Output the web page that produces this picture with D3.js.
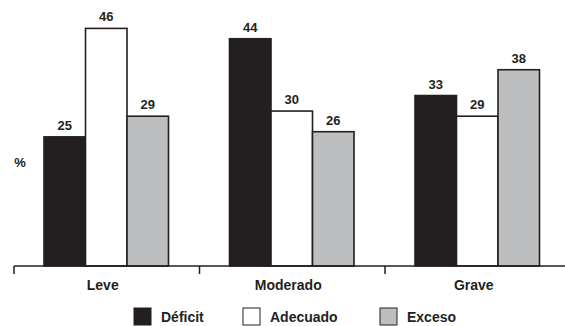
<!DOCTYPE html>
<html><head><meta charset="utf-8">
<script src="https://cdn.jsdelivr.net/npm/d3@7"></script>
<style>
html,body{margin:0;padding:0;background:#fff;}
svg{display:block;font-family:"Liberation Sans",Arial,Helvetica,sans-serif;font-weight:bold;}
</style></head><body>
<svg id="chart" width="565" height="326"></svg>
<script>
const categories = ["Leve", "Moderado", "Grave"];
const seriesNames = ["Déficit", "Adecuado", "Exceso"];
const deficit = [25, 44, 33];
const adecuado = [46, 30, 29];
const exceso = [29, 26, 38];
const seriesValues = [deficit, adecuado, exceso];
const colors = ["#231f20", "#ffffff", "#bcbec0"];
const stroke = "#231f20";

const svg = d3.select("#chart");
const baseY = 266;
const x0 = d3.scaleBand().domain(categories).range([14, 570.5]).padding(0);
const x1 = d3.scaleBand().domain(seriesNames).range([30, 154.5]).padding(0);
const y = d3.scaleLinear().domain([0, 51.5]).range([baseY, 0]);

const data = [];
categories.forEach((c, i) => seriesNames.forEach((s, j) => data.push({c, s, j, v: seriesValues[j][i]})));

// bars
svg.append("g").selectAll("rect").data(data).join("rect")
  .attr("x", d => x0(d.c) + x1(d.s))
  .attr("y", d => y(d.v))
  .attr("width", x1.bandwidth())
  .attr("height", d => baseY - y(d.v))
  .attr("fill", d => colors[d.j])
  .attr("stroke", stroke)
  .attr("stroke-width", 1.6);

// value labels
svg.append("g").selectAll("text").data(data).join("text")
  .attr("x", d => x0(d.c) + x1(d.s) + x1.bandwidth() / 2)
  .attr("y", d => y(d.v) - 7)
  .attr("text-anchor", "middle")
  .attr("font-size", 13)
  .attr("fill", "#231f20")
  .text(d => d.v);

// axis
const axis = svg.append("g");
axis.append("line").attr("x1", 14).attr("x2", 565).attr("y1", baseY).attr("y2", baseY)
  .attr("stroke", stroke).attr("stroke-width", 1.5);
axis.selectAll("line.tick").data(categories).join("line").attr("class", "tick")
  .attr("x1", d => x0(d)).attr("x2", d => x0(d))
  .attr("y1", baseY).attr("y2", baseY + 8)
  .attr("stroke", stroke).attr("stroke-width", 1.5);
axis.selectAll("text").data(categories).join("text")
  .attr("x", d => x0(d) + x0.bandwidth() / 2 - 4)
  .attr("y", 290)
  .attr("text-anchor", "middle")
  .attr("font-size", 14)
  .attr("fill", "#231f20")
  .text(d => d);

// y label
svg.append("text").attr("x", 20).attr("y", 167).attr("text-anchor", "middle")
  .attr("font-size", 13).attr("fill", "#231f20").text("%");

// legend
const legendX = [134, 243, 380];
const lg = svg.append("g").selectAll("g").data(seriesNames).join("g")
  .attr("transform", (d, i) => `translate(${legendX[i]},308)`);
lg.append("rect").attr("width", 17).attr("height", 17)
  .attr("fill", (d, i) => colors[i]).attr("stroke", stroke).attr("stroke-width", 1);
lg.append("text").attr("x", 27).attr("y", 14).attr("font-size", 14)
  .attr("fill", "#231f20").text(d => d);
</script>
</body></html>
